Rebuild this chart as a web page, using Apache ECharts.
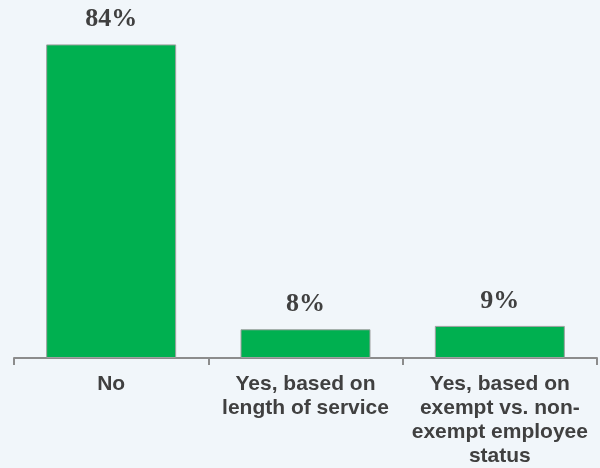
<!DOCTYPE html>
<html>
<head>
<meta charset="utf-8">
<script src="https://cdn.jsdelivr.net/npm/echarts@6/dist/echarts.min.js"></script>
<style>
html,body{margin:0;padding:0;background:#F1F6FA;}
#c{width:600px;height:468px;}
</style>
</head>
<body>
<div id="c"></div>
<script>
const categories = ["No", "Yes, based on\nlength of service", "Yes, based on\nexempt vs. non-\nexempt employee\nstatus"];
const values = [84, 7.7, 8.6];

const chart = echarts.init(document.getElementById('c'));
chart.setOption({
  backgroundColor: '#F1F6FA',
  animation: false,
  grid: { left: 14, right: 3, top: 22, bottom: 110, containLabel: false },
  xAxis: {
    type: 'category',
    data: categories,
    axisLine: { lineStyle: { color: '#8C8C8C', width: 2 } },
    axisTick: { show: true, length: 7, lineStyle: { color: '#8C8C8C', width: 2 } },
    axisLabel: {
      interval: 0,
      margin: 14,
      color: '#404040',
      fontFamily: 'Liberation Sans, Arial, sans-serif',
      fontWeight: 'bold',
      fontSize: 21,
      lineHeight: 24
    }
  },
  yAxis: { type: 'value', min: 0, max: 90, show: false, splitLine: { show: false } },
  series: [{
    type: 'bar',
    data: values,
    barWidth: 130,
    itemStyle: { color: '#00B050', borderColor: '#A0A0A0', borderWidth: 1 },
    label: {
      show: true,
      position: 'top',
      distance: 12,
      formatter: p => Math.round(p.value) + '%',
      color: '#404040',
      fontFamily: 'Liberation Serif, Times New Roman, serif',
      fontWeight: 'bold',
      fontSize: 26
    }
  }]
});
</script>
</body>
</html>
